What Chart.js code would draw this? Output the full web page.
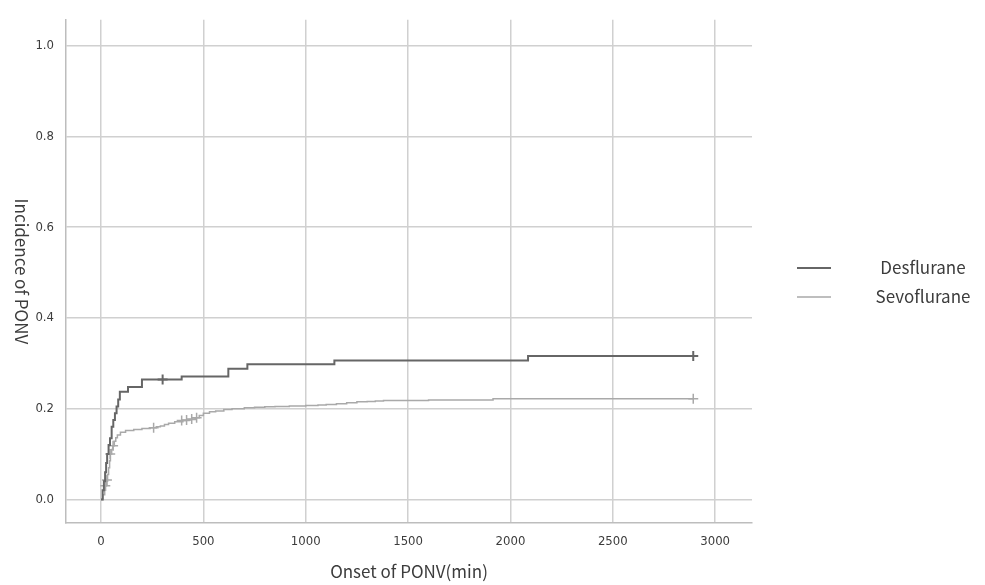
<!DOCTYPE html>
<html><head><meta charset="utf-8">
<script src="https://cdn.jsdelivr.net/npm/chart.js@4/dist/chart.umd.min.js"></script>
<style>html,body{margin:0;padding:0;background:#fff;}#wrap{width:985px;height:585px;}</style>
</head><body><div id="wrap"><canvas id="c" width="985" height="585"></canvas></div>
<script>
// ---- data ----
const seriesNames = ['Desflurane', 'Sevoflurane'];
const xTitle = 'Onset of PONV(min)';
const yTitle = 'Incidence of PONV';
const xTicks = [0, 500, 1000, 1500, 2000, 2500, 3000];
const yTicks = [0, 0.2, 0.4, 0.6, 0.8, 1.0];

const desTime = [0, 8, 14, 20, 25, 30, 37, 44, 52, 60, 68, 76, 84, 92, 132, 200, 394, 622, 715, 1140, 2086, 2893];
const desInc  = [0, 0.02, 0.04, 0.06, 0.08, 0.10, 0.12, 0.135, 0.16, 0.175, 0.19, 0.205, 0.22, 0.237, 0.248, 0.264, 0.271, 0.288, 0.298, 0.306, 0.316, 0.316];
const desCensorTime = [301, 2893];
const desCensorInc  = [0.264, 0.316];

const sevoTime = [0, 10, 18, 22, 27, 32, 37, 42, 46, 52, 58, 65, 72, 80, 95, 120, 160, 200, 240, 270, 290, 310, 330, 360, 400, 430, 460, 480, 500, 530, 560, 600, 640, 700, 750, 800, 850, 920, 1000, 1060, 1100, 1150, 1200, 1250, 1300, 1340, 1380, 1600, 1915, 2893];
const sevoInc  = [0, 0.01, 0.02, 0.03, 0.04, 0.055, 0.07, 0.085, 0.10, 0.11, 0.118, 0.128, 0.136, 0.142, 0.148, 0.152, 0.154, 0.156, 0.158, 0.160, 0.162, 0.165, 0.168, 0.171, 0.174, 0.176, 0.18, 0.185, 0.19, 0.193, 0.195, 0.198, 0.20, 0.202, 0.203, 0.204, 0.205, 0.206, 0.207, 0.208, 0.209, 0.211, 0.213, 0.215, 0.216, 0.217, 0.218, 0.219, 0.222, 0.222];
const sevoCensorTime = [21, 29, 45, 59, 257, 394, 418, 443, 467, 2893];
const sevoCensorInc  = [0.03, 0.043, 0.10, 0.118, 0.158, 0.174, 0.175, 0.177, 0.18, 0.222];

const colors = ['#666666', '#a9a9a9'];

const pts = (t, v) => t.map((x, i) => ({x: x, y: v[i]}));
const tickFont = {family: "'Liberation Sans Narrow','DejaVu Sans Condensed','Roboto Condensed','Roboto',sans-serif", size: 13};
const labelFont = "'Noto Sans CJK JP','Noto Sans',sans-serif";

const titlesPlugin = {
  id: 'titles',
  afterDraw(chart) {
    const ctx = chart.ctx, a = chart.chartArea;
    ctx.save();
    ctx.fillStyle = '#3c3c3c';
    ctx.font = '17px ' + labelFont;
    ctx.textAlign = 'center';
    ctx.textBaseline = 'middle';
    ctx.fillText(xTitle, (a.left + a.right) / 2, 572);
    ctx.translate(21, (a.top + a.bottom) / 2);
    ctx.rotate(Math.PI / 2);
    ctx.fillText(yTitle, 0, 0);
    ctx.restore();
    // legend
    ctx.save();
    ctx.font = '17px ' + labelFont;
    ctx.textAlign = 'center';
    ctx.textBaseline = 'middle';
    const ys = [268, 297];
    seriesNames.forEach((n, i) => {
      ctx.strokeStyle = colors[i];
      ctx.lineWidth = i === 0 ? 2 : 1.5;
      ctx.beginPath();
      ctx.moveTo(797, ys[i]);
      ctx.lineTo(831, ys[i]);
      ctx.stroke();
      ctx.fillStyle = '#3c3c3c';
      ctx.fillText(n, 923, ys[i]);
    });
    ctx.restore();
  }
};

new Chart(document.getElementById('c'), {
  type: 'line',
  data: {
    datasets: [
      {label: seriesNames[0], data: pts(desTime, desInc), borderColor: colors[0], borderWidth: 2, pointRadius: 0, stepped: true, fill: false},
      {label: seriesNames[1], data: pts(sevoTime, sevoInc), borderColor: colors[1], borderWidth: 1.5, pointRadius: 0, stepped: true, fill: false},
      {label: seriesNames[0] + ' censored', data: pts(desCensorTime, desCensorInc), showLine: false, pointStyle: 'cross', pointRadius: 5, borderColor: colors[0], borderWidth: 2},
      {label: seriesNames[1] + ' censored', data: pts(sevoCensorTime, sevoCensorInc), showLine: false, pointStyle: 'cross', pointRadius: 5, borderColor: colors[1], borderWidth: 1.5}
    ]
  },
  options: {
    responsive: false,
    devicePixelRatio: 1,
    animation: false,
    layout: {padding: {top: 15, right: 233, left: 0, bottom: 0}},
    plugins: {legend: {display: false}, tooltip: {enabled: false}},
    scales: {
      x: {
        type: 'linear', min: -171, max: 3180,
        afterBuildTicks: s => { s.ticks = xTicks.map(v => ({value: v})); },
        afterFit: s => { s.height = 62; },
        grid: {color: '#d0d0d0', lineWidth: 1.5, drawTicks: false},
        border: {display: true, color: '#bdbdbd', width: 1.5},
        ticks: {padding: 11, color: '#3c3c3c', font: tickFont, callback: v => String(v), maxRotation: 0}
      },
      y: {
        type: 'linear', min: -0.052, max: 1.057,
        afterBuildTicks: s => { s.ticks = yTicks.map(v => ({value: v})); },
        afterFit: s => { s.width = 66; },
        grid: {color: '#d0d0d0', lineWidth: 1.5, drawTicks: false},
        border: {display: true, color: '#bdbdbd', width: 1.5},
        ticks: {padding: 12, color: '#3c3c3c', font: tickFont, callback: v => v.toFixed(1)}
      }
    }
  },
  plugins: [titlesPlugin]
});
</script></body></html>
